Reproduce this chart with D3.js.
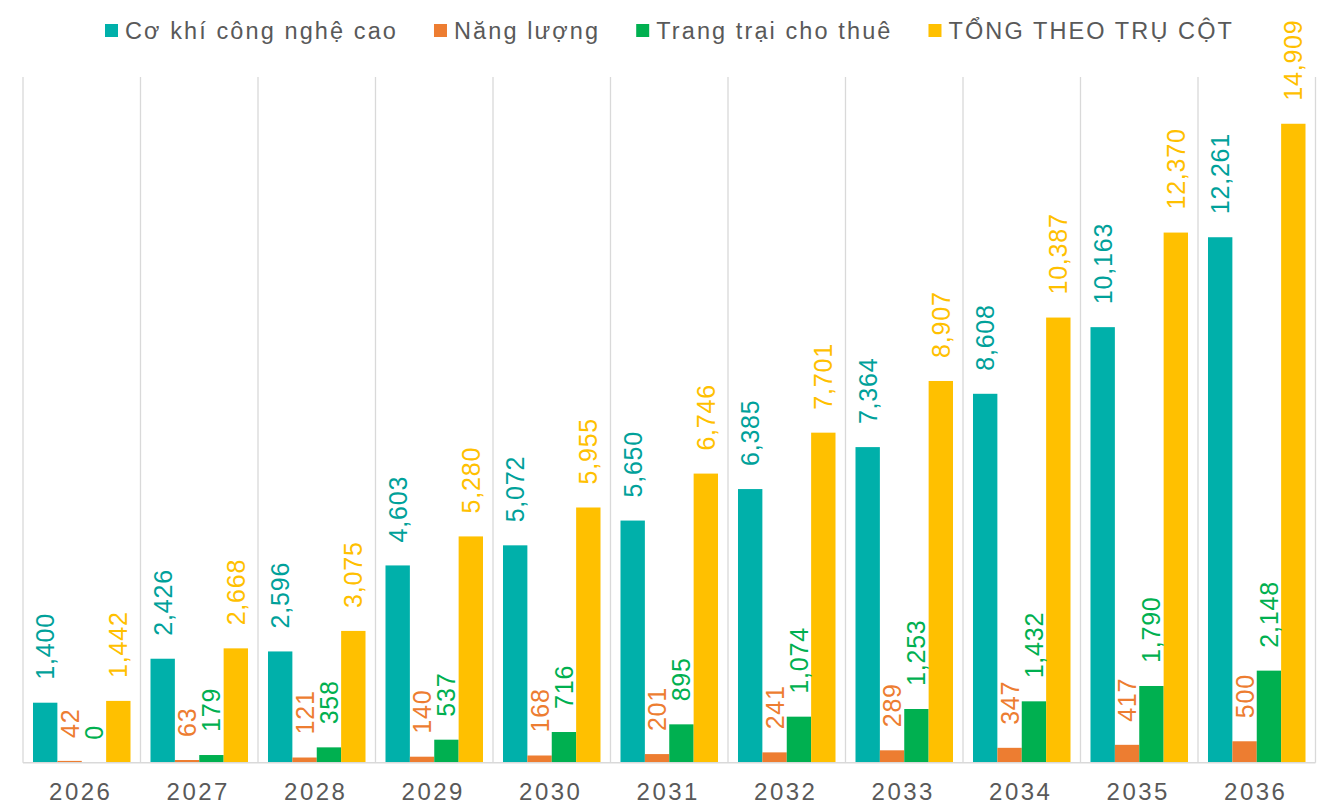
<!DOCTYPE html>
<html>
<head>
<meta charset="utf-8">
<script src="https://cdn.jsdelivr.net/npm/d3@7"></script>
<style>
  body { margin: 0; background: #fff; }
  text { font-family: "Liberation Sans", Arial, sans-serif; }
</style>
</head>
<body>
<svg width="1332" height="804"></svg>
<script>
var years = ["2026","2027","2028","2029","2030","2031","2032","2033","2034","2035","2036"];
var seriesNames = ["Cơ khí công nghệ cao", "Năng lượng", "Trang trại cho thuê", "TỔNG THEO TRỤ CỘT"];
var coKhi   = [1400, 2426, 2596, 4603, 5072, 5650, 6385, 7364, 8608, 10163, 12261];
var nangLuong = [42, 63, 121, 140, 168, 201, 241, 289, 347, 417, 500];
var trangTrai = [0, 179, 358, 537, 716, 895, 1074, 1253, 1432, 1790, 2148];
var tong    = [1442, 2668, 3075, 5280, 5955, 6746, 7701, 8907, 10387, 12370, 14909];

var barColor = ["#00B0AA", "#ED7D31", "#00B050", "#FFC000"];
var labelColor = ["#00A19A", "#ED7D31", "#00B050", "#FFC000"];

var allSeries = [coKhi, nangLuong, trangTrai, tong];
var rows = years.map(function(yr, i){
  return {year: yr, values: allSeries.map(function(s, k){ return {k: k, v: s[i]}; })};
});

var svg = d3.select("svg");
var plotL = 23, plotR = 1315.5, plotT = 77, plotB = 762.7;

var x = d3.scaleBand().domain(years).range([plotL, plotR]).paddingInner(0).paddingOuter(0);
var xs = d3.scaleBand().domain([0,1,2,3]).range([0, x.bandwidth()]).paddingInner(0).paddingOuter(0.41);
var y = d3.scaleLinear().domain([0, 16000]).range([plotB, plotT]);
var fmt = d3.format(",");

// vertical gridlines at category edges
var edges = years.map(function(d){ return x(d); }).concat([plotR]);
svg.append("g").selectAll("line").data(edges).join("line")
  .attr("x1", d=>d).attr("x2", d=>d)
  .attr("y1", plotT).attr("y2", plotB)
  .attr("stroke", "#d9d9d9").attr("stroke-width", 1.3);

var groups = svg.append("g").selectAll("g").data(rows).join("g")
  .attr("transform", d=>"translate(" + x(d.year) + ",0)");

groups.selectAll("rect").data(d=>d.values).join("rect")
  .attr("x", d=>xs(d.k))
  .attr("width", xs.bandwidth())
  .attr("y", d=>y(d.v))
  .attr("height", d=>plotB - y(d.v))
  .attr("fill", d=>barColor[d.k]);

groups.selectAll("text").data(d=>d.values).join("text")
  .attr("transform", d=>"translate(" + (xs(d.k) + xs.bandwidth()/2) + "," + (y(d.v) - 23) + ") rotate(-90)")
  .attr("dy", "0.36em")
  .attr("text-anchor", "start")
  .style("font-size", "25px")
  .style("letter-spacing", "0.8px")
  .attr("fill", d=>labelColor[d.k])
  .text(d=>fmt(d.v));

// baseline
svg.append("line")
  .attr("x1", plotL).attr("x2", plotR)
  .attr("y1", plotB).attr("y2", plotB)
  .attr("stroke", "#d9d9d9").attr("stroke-width", 1.5);

// year labels
svg.append("g").selectAll("text").data(years).join("text")
  .attr("x", d=>x(d) + x.bandwidth()/2 - 1)
  .attr("y", 800)
  .attr("text-anchor", "middle")
  .style("font-size", "24px")
  .style("letter-spacing", "2.5px")
  .attr("fill", "#595959")
  .text(d=>d);

// legend
var legend = svg.append("g");
var lx = 105;
seriesNames.forEach(function(name, k){
  legend.append("rect")
    .attr("x", lx).attr("y", 24)
    .attr("width", 13).attr("height", 13)
    .attr("fill", barColor[k]);
  var t = legend.append("text")
    .attr("x", lx + 20).attr("y", 39)
    .style("font-size", "23.5px")
    .style("letter-spacing", "2.1px")
    .attr("fill", "#595959")
    .text(name);
  lx += 20 + t.node().getComputedTextLength() + 36;
});
</script>
</body>
</html>
